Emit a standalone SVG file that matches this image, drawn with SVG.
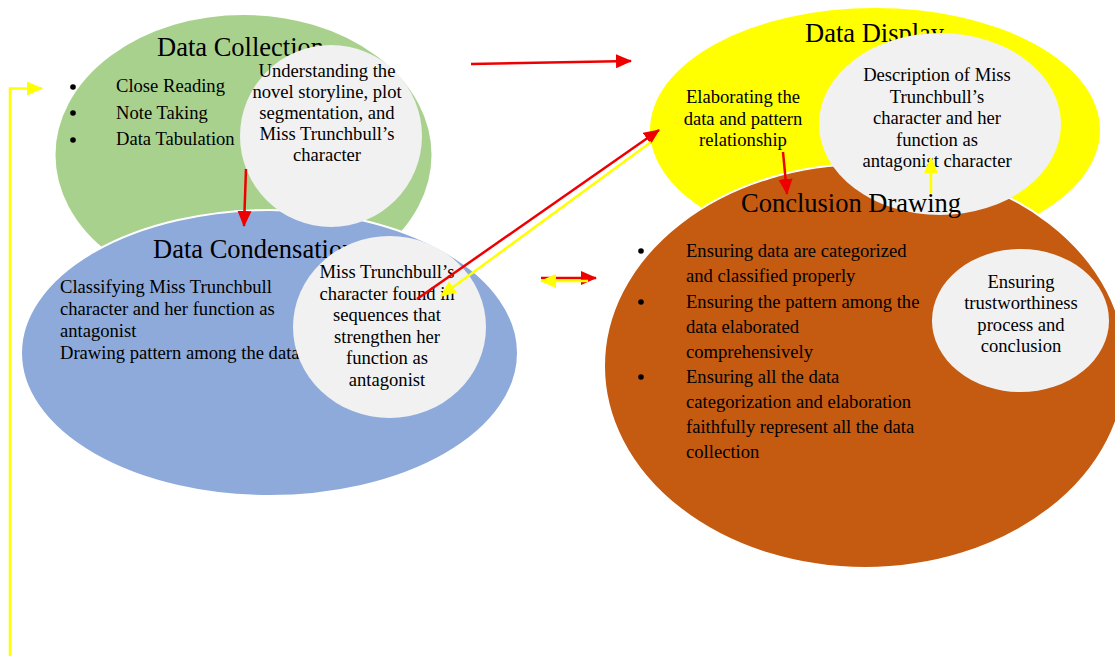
<svg xmlns="http://www.w3.org/2000/svg" width="1115" height="656" viewBox="0 0 1115 656">
  <style>
    text { font-family: "Liberation Serif", "Times New Roman", serif; fill: #000; }
    .title { font-size: 26.5px; }
    .body { font-size: 18.6px; }
    .mid { text-anchor: middle; }
    .bubble { fill: #F1F1F1; }
    .red { stroke: #EE0000; stroke-width: 2.5; fill: none; }
    .yel { stroke: #FFFF00; stroke-width: 2.5; fill: none; }
  </style>
  <defs>
    <marker id="headRed" markerUnits="userSpaceOnUse" markerWidth="16" markerHeight="14" refX="15" refY="7" orient="auto">
      <path d="M0,0 L16,7 L0,14 z" fill="#EE0000"/>
    </marker>
    <marker id="headYel" markerUnits="userSpaceOnUse" markerWidth="16" markerHeight="14" refX="15" refY="7" orient="auto">
      <path d="M0,0 L16,7 L0,14 z" fill="#FFFF00"/>
    </marker>
  </defs>

  <rect width="1115" height="656" fill="#FFFFFF"/>

  <!-- Data Collection -->
  <g id="data-collection">
    <ellipse cx="243.5" cy="155" rx="189" ry="141" fill="#A9D18E" stroke="#FFFFFF" stroke-width="2"/>
    <text class="title" x="157" y="56">Data Collection</text>
    <circle cx="73" cy="87" r="2.8"/>
    <circle cx="73" cy="113" r="2.8"/>
    <circle cx="73" cy="140" r="2.8"/>
    <text class="body" x="116" y="92">Close Reading</text>
    <text class="body" x="116" y="118.5">Note Taking</text>
    <text class="body" x="116" y="145">Data Tabulation</text>
  </g>

  <!-- Data Condensation -->
  <g id="data-condensation">
    <ellipse cx="269.5" cy="353" rx="248.5" ry="143" fill="#8EAADB" stroke="#FFFFFF" stroke-width="2"/>
    <text class="title" x="153" y="258">Data Condensation</text>
    <text class="body" x="60" y="293">Classifying Miss Trunchbull</text>
    <text class="body" x="60" y="315">character and her function as</text>
    <text class="body" x="60" y="337">antagonist</text>
    <text class="body" x="60" y="359">Drawing pattern among the data</text>
  </g>

  <!-- Data Collection detail -->
  <g id="collection-detail">
    <circle class="bubble" cx="331" cy="136" r="91"/>
    <text class="body mid" x="327" y="77">Understanding the</text>
    <text class="body mid" x="327" y="98">novel storyline, plot</text>
    <text class="body mid" x="327" y="119">segmentation, and</text>
    <text class="body mid" x="327" y="140">Miss Trunchbull’s</text>
    <text class="body mid" x="327" y="161">character</text>
  </g>

  <!-- Data Condensation detail -->
  <g id="condensation-detail">
    <ellipse class="bubble" cx="389.5" cy="327" rx="96.5" ry="91"/>
    <text class="body mid" x="387" y="278">Miss Trunchbull’s</text>
    <text class="body mid" x="387" y="299.5">character found in</text>
    <text class="body mid" x="387" y="321">sequences that</text>
    <text class="body mid" x="387" y="342.5">strengthen her</text>
    <text class="body mid" x="387" y="364">function as</text>
    <text class="body mid" x="387" y="385.5">antagonist</text>
  </g>

  <!-- Data Display -->
  <g id="data-display">
    <ellipse cx="875" cy="130" rx="225" ry="122" fill="#FFFF00"/>
    <text class="title" x="805" y="42">Data Display</text>
    <text class="body mid" x="743" y="103">Elaborating the</text>
    <text class="body mid" x="743" y="124.5">data and pattern</text>
    <text class="body mid" x="743" y="146">relationship</text>
  </g>

  <!-- Conclusion Drawing -->
  <g id="conclusion-drawing">
    <ellipse cx="865" cy="366" rx="261" ry="202" fill="#C55A11" stroke="#FFFFFF" stroke-width="2"/>
  </g>

  <!-- Data Display detail -->
  <g id="display-detail">
    <ellipse class="bubble" cx="940" cy="124" rx="121" ry="91"/>
    <text class="body mid" x="937" y="81">Description of Miss</text>
    <text class="body mid" x="937" y="102.5">Trunchbull’s</text>
    <text class="body mid" x="937" y="124">character and her</text>
    <text class="body mid" x="937" y="145.5">function as</text>
    <text class="body mid" x="937" y="167">antagonist character</text>
  </g>

  <g id="conclusion-text">
    <text class="title" x="741" y="212">Conclusion Drawing</text>
    <circle cx="641" cy="251" r="2.8"/>
    <circle cx="641" cy="302" r="2.8"/>
    <circle cx="641" cy="377" r="2.8"/>
    <text class="body" x="686" y="257">Ensuring data are categorized</text>
    <text class="body" x="686" y="282">and classified properly</text>
    <text class="body" x="686" y="307.5">Ensuring the pattern among the</text>
    <text class="body" x="686" y="332.5">data elaborated</text>
    <text class="body" x="686" y="357.5">comprehensively</text>
    <text class="body" x="686" y="383">Ensuring all the data</text>
    <text class="body" x="686" y="408">categorization and elaboration</text>
    <text class="body" x="686" y="433">faithfully represent all the data</text>
    <text class="body" x="686" y="458">collection</text>
  </g>

  <!-- Conclusion Drawing detail -->
  <g id="conclusion-detail">
    <ellipse class="bubble" cx="1020.5" cy="320.5" rx="88.5" ry="71.5"/>
    <text class="body mid" x="1021" y="288">Ensuring</text>
    <text class="body mid" x="1021" y="309">trustworthiness</text>
    <text class="body mid" x="1021" y="330.5">process and</text>
    <text class="body mid" x="1021" y="351.5">conclusion</text>
  </g>

  <!-- Connectors -->
  <g id="connectors">
    <line class="red" x1="471" y1="64" x2="631" y2="61" marker-end="url(#headRed)"/>
    <line class="red" x1="246" y1="169" x2="244" y2="226" marker-end="url(#headRed)"/>
    <line class="red" x1="417" y1="299" x2="659" y2="130" marker-end="url(#headRed)"/>
    <line class="yel" x1="651" y1="142" x2="441" y2="296" marker-end="url(#headYel)"/>
    <line class="red" x1="541" y1="278" x2="596" y2="278" marker-end="url(#headRed)"/>
    <line class="yel" x1="588" y1="281" x2="541" y2="281" marker-end="url(#headYel)"/>
    <line class="red" x1="783" y1="152" x2="787" y2="194" marker-end="url(#headRed)"/>
    <line class="yel" x1="931" y1="193" x2="931" y2="158" marker-end="url(#headYel)"/>
    <polyline class="yel" points="10,656 10,88.5 42,88.5" marker-end="url(#headYel)"/>
  </g>
</svg>
